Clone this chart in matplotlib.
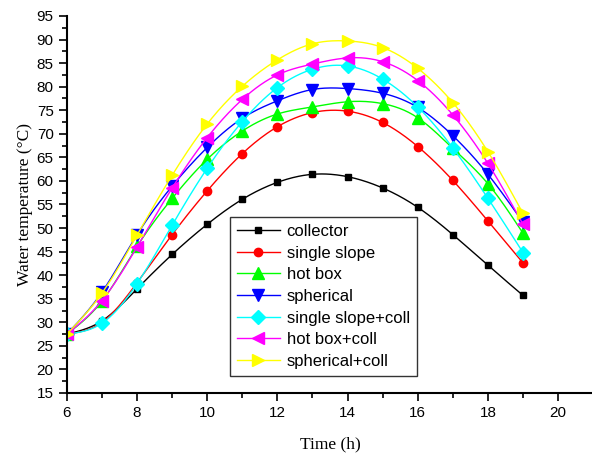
import numpy as np
import matplotlib.pyplot as plt

hours = [6, 7, 8, 9, 10, 11, 12, 13, 14, 15, 16, 17, 18, 19]

collector = [27.5, 30.3, 37.1, 44.4, 50.8, 56.1, 59.7, 61.4, 60.9, 58.5, 54.4, 48.6, 42.1, 35.7]
single_slope = [27.5, 30.0, 38.4, 48.6, 57.9, 65.8, 71.5, 74.5, 74.8, 72.4, 67.3, 60.1, 51.5, 42.6]
hot_box = [27.5, 34.5, 46.1, 56.3, 64.6, 70.6, 74.2, 75.7, 76.8, 76.4, 73.4, 66.9, 59.4, 48.9]
spherical = [27.5, 36.4, 48.6, 58.9, 67.1, 73.3, 77.0, 79.4, 79.6, 78.6, 75.6, 69.6, 61.4, 51.2]
single_slope_coll = [27.5, 29.8, 38.2, 50.6, 62.7, 72.6, 79.8, 83.7, 84.4, 81.6, 75.7, 67.0, 56.3, 44.8]
hot_box_coll = [27.5, 34.6, 46.0, 58.5, 69.2, 77.3, 82.5, 84.8, 86.1, 85.3, 81.3, 74.0, 63.7, 50.8]
spherical_coll = [27.5, 36.2, 48.5, 61.2, 72.1, 80.1, 85.7, 89.1, 89.7, 88.3, 83.9, 76.6, 66.2, 53.1]

series = [
    ("collector", collector, "black", "s", 5),
    ("single slope", single_slope, "red", "o", 6),
    ("hot box", hot_box, "#00ff00", "^", 9),
    ("spherical", spherical, "blue", "v", 9),
    ("single slope+coll", single_slope_coll, "cyan", "D", 7),
    ("hot box+coll", hot_box_coll, "magenta", "<", 9),
    ("spherical+coll", spherical_coll, "yellow", ">", 9),
]


def natural_spline(x, y, n=300):
    # plain natural cubic spline, only used to draw the smooth line
    x = np.asarray(x, float)
    y = np.asarray(y, float)
    k = len(x)
    h = np.diff(x)
    A = np.zeros((k, k))
    b = np.zeros(k)
    A[0, 0] = A[-1, -1] = 1
    for i in range(1, k - 1):
        A[i, i - 1] = h[i - 1]
        A[i, i] = 2 * (h[i - 1] + h[i])
        A[i, i + 1] = h[i]
        b[i] = 6 * ((y[i + 1] - y[i]) / h[i] - (y[i] - y[i - 1]) / h[i - 1])
    m = np.linalg.solve(A, b)
    xs = np.linspace(x[0], x[-1], n)
    idx = np.clip(np.searchsorted(x, xs) - 1, 0, k - 2)
    x0, x1 = x[idx], x[idx + 1]
    hh = x1 - x0
    t0 = x1 - xs
    t1 = xs - x0
    ys = (m[idx] * t0 ** 3 + m[idx + 1] * t1 ** 3) / (6 * hh) \
        + (y[idx] / hh - m[idx] * hh / 6) * t0 \
        + (y[idx + 1] / hh - m[idx + 1] * hh / 6) * t1
    return xs, ys


plt.rcParams["font.family"] = ["Liberation Sans", "DejaVu Sans"]

fig = plt.figure(figsize=(5.92, 4.53), dpi=100)
ax = fig.add_axes([0.113, 0.1325, 0.889, 0.8322])

handles = []
for label, vals, color, marker, ms in series:
    xs, ys = natural_spline(hours, vals)
    ax.plot(xs, ys, color=color, lw=1.0)
    ax.plot(hours, vals, linestyle="none", marker=marker, color=color, ms=ms)
    h, = ax.plot([], [], color=color, lw=1.0, marker=marker, ms=ms, label=label)
    handles.append(h)

ax.set_xlim(6, 21)
ax.set_ylim(15, 95)
ax.set_xticks(np.arange(6, 21, 2))
ax.set_xticks(np.arange(7, 21, 2), minor=True)
ax.set_yticks(np.arange(15, 96, 5))
ax.set_yticks(np.arange(17.5, 95, 5), minor=True)

for side in ["top", "right"]:
    ax.spines[side].set_visible(False)
for side in ["left", "bottom"]:
    ax.spines[side].set_linewidth(1.5)

ax.tick_params(which="major", direction="out", length=6, width=1.2, labelsize=11)
ax.tick_params(which="minor", direction="out", length=3.5, width=1.2)

ax.set_xlabel("Time (h)", family="Liberation Serif", fontsize=12.5, labelpad=12)
ax.set_ylabel("Water temperature (°C)", family="Liberation Serif", fontsize=12.5, labelpad=3)

leg = ax.legend(handles=handles, loc="lower left", bbox_to_anchor=(0.31, 0.046),
                fontsize=12, frameon=True, fancybox=False, edgecolor="black",
                handlelength=2.6, labelspacing=0.4, borderpad=0.4, handletextpad=0.4,
                borderaxespad=0)
leg.get_frame().set_linewidth(1.0)

fig.savefig("out.png", dpi=100)
